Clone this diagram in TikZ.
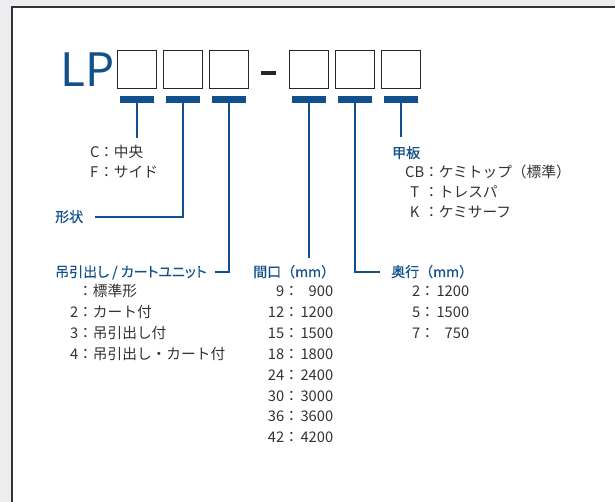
\documentclass[tikz,border=0pt]{standalone}
\usepackage{fontspec}
\setmainfont{Noto Sans CJK JP}
\newfontfamily\headfont[FakeBold=0.4]{Noto Sans CJK JP}
\newfontfamily\headkanafont[RawFeature=+palt,FakeBold=0.4]{Noto Sans CJK JP}
\usetikzlibrary{positioning}
\definecolor{codeblue}{RGB}{18,80,140}
\definecolor{textgray}{RGB}{51,51,51}
\definecolor{pagegray}{RGB}{236,237,238}
\newcommand{\sizerow}[2]{\makebox[16pt][r]{#1}：\makebox[34.3pt][r]{#2}}
\newcommand{\deeprow}[2]{\makebox[10pt][r]{#1}：\makebox[34.3pt][r]{#2}}
\tikzset{
    digit/.style={draw=black!85,line width=1.3pt,minimum width=38.7pt,minimum height=37.7pt,inner sep=0pt},
    tab/.style={fill=codeblue,minimum width=34pt,minimum height=7pt,inner sep=0pt,outer sep=0pt},
    lead/.style={codeblue,line width=1.2pt},
    heading/.style={text=codeblue,font=\headfont\fontsize{14}{14}\selectfont,inner sep=0pt,text height=10pt,text depth=0pt,anchor=west},
    entry/.style={text=textgray,font=\fontsize{14.7}{14.7}\selectfont,inner sep=0pt,text height=10pt,text depth=0pt,anchor=west},
}
\begin{document}
\begin{tikzpicture}[x=1pt,y=-1pt,node distance=6pt]
        \useasboundingbox (0,0) rectangle (615,502);
        \fill[pagegray] (0,0) rectangle (615,502);
        \fill[white] (12,7) rectangle (615,502);
        \draw[black!80,line width=1.3pt] (12,502) -- (12,7) -- (615,7);
        % code boxes
        \node[digit] (box1) at (137,69.5) {};
        \node[digit,right=of box1] (box2) {};
        \node[digit,right=of box2] (box3) {};
        \node[digit,right=40pt of box3] (box4) {};
        \node[digit,right=of box4] (box5) {};
        \node[digit,right=of box5] (box6) {};
        \node[fill=black!85,minimum width=15pt,minimum height=4pt,inner sep=0pt,
            right=12pt of box3,yshift=-3.5pt] (dash) {};
        \node[text=codeblue,font=\fontsize{46}{46}\selectfont,inner sep=0pt,
            text height=33.5pt,text depth=0pt,left=2pt of box1] (lp) {LP};
        \node[tab,below=7pt of box1] (tab1) {};
        \node[tab,below=7pt of box2] (tab2) {};
        \node[tab,below=7pt of box3] (tab3) {};
        \node[tab,below=7pt of box4] (tab4) {};
        \node[tab,below=7pt of box5] (tab5) {};
        \node[tab,below=7pt of box6] (tab6) {};
        % headings
        \node[heading] (shape) at (55,217) {形状};
        \node[heading,font=\headkanafont\fontsize{14}{14}\selectfont] (drawer) at (55,272) {吊引出し / カートユニット};
        \node[heading] (width) at (253,272) {間口（mm）};
        \node[heading] (depth) at (391,272) {奥行（mm）};
        \node[heading] (plate) at (392,153) {甲板};
        % entries
        \node[entry] (c1) at (90,153) {\makebox[9pt][l]{C}：中央};
        \node[entry] (c2) at (90,173) {\makebox[9pt][l]{F}：サイド};
        \node[entry] (p1) at (405,173) {\makebox[19pt]{CB}：ケミトップ（標準）};
        \node[entry] (p2) at (405,193) {\makebox[19pt]{T}：トレスパ};
        \node[entry] (p3) at (405,213) {\makebox[19pt]{K}：ケミサーフ};
        \node[entry] (d1) at (68,292) {\makebox[10pt][r]{}：標準形};
        \node[entry] (d2) at (68,312.8) {\makebox[10pt][r]{2}：カート付};
        \node[entry] (d3) at (68,333.6) {\makebox[10pt][r]{3}：吊引出し付};
        \node[entry] (d4) at (68,354.4) {\makebox[10pt][r]{4}：吊引出し・カート付};
        \node[entry] (w1) at (268,292) {\sizerow{9}{900}};
        \node[entry] (w2) at (268,312.8) {\sizerow{12}{1200}};
        \node[entry] (w3) at (268,333.6) {\sizerow{15}{1500}};
        \node[entry] (w4) at (268,354.4) {\sizerow{18}{1800}};
        \node[entry] (w5) at (268,375.2) {\sizerow{24}{2400}};
        \node[entry] (w6) at (268,396) {\sizerow{30}{3000}};
        \node[entry] (w7) at (268,416.8) {\sizerow{36}{3600}};
        \node[entry] (w8) at (268,437.6) {\sizerow{42}{4200}};
        \node[entry] (e1) at (410,292) {\deeprow{2}{1200}};
        \node[entry] (e2) at (410,312.8) {\deeprow{5}{1500}};
        \node[entry] (e3) at (410,333.6) {\deeprow{7}{750}};
        % leaders
        \draw[lead,shorten >=10pt] (tab1.south) -- (tab1.south |- c1.north);
        \draw[lead,shorten >=12pt] (tab2.south) |- (shape.east);
        \draw[lead,shorten >=8pt] (tab3.south) |- (drawer.east);
        \draw[lead,shorten >=9pt] (tab4.south) -- (tab4.south |- width.north);
        \draw[lead,shorten >=11pt] (tab5.south) |- (depth.west);
        \draw[lead,shorten >=11pt] (tab6.south) -- (tab6.south |- plate.north);
    \end{tikzpicture}
\end{document}
